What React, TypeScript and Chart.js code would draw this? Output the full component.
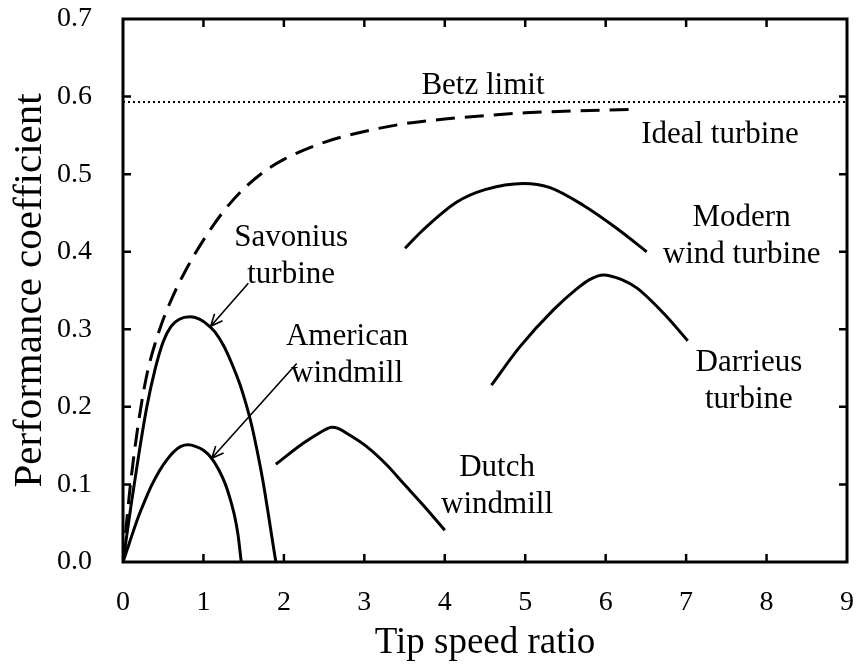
import React, { useEffect, useRef } from "react";
import { Chart, registerables } from "chart.js";

Chart.register(...registerables);

const SERIF = '"Liberation Serif", "Times New Roman", serif';

// Axis ranges and tick steps
const xRange = [0, 9];
const yRange = [0, 0.7];
const xStep = 1;
const yStep = 0.1;

// Betz limit (16/27)
const betzLimit = 0.593;

// Performance coefficient curves (tip speed ratio -> Cp)
const idealX = [0, 0.05, 0.1, 0.2, 0.3, 0.45, 0.6, 0.8, 1.0, 1.25, 1.5, 1.75, 2.0, 2.5, 3.0, 3.5, 4.0, 5.0, 6.39];
const idealY = [0, 0.057, 0.107, 0.185, 0.243, 0.298, 0.338, 0.38, 0.415, 0.452, 0.481, 0.503, 0.519, 0.541, 0.555, 0.565, 0.571, 0.579, 0.5836];

const savoniusX = [0, 0.1, 0.2, 0.3, 0.4, 0.5, 0.6, 0.7, 0.833, 0.95, 1.05, 1.14, 1.25, 1.36, 1.45, 1.52, 1.6, 1.68, 1.74, 1.8, 1.86, 1.9];
const savoniusY = [0, 0.073, 0.141, 0.202, 0.249, 0.284, 0.304, 0.313, 0.316, 0.313, 0.306, 0.297, 0.279, 0.254, 0.23, 0.207, 0.176, 0.137, 0.104, 0.066, 0.026, 0];

const americanX = [0, 0.1, 0.19, 0.28, 0.357, 0.45, 0.54, 0.63, 0.72, 0.812, 0.9, 1.0, 1.1, 1.19, 1.27, 1.33, 1.39, 1.43, 1.47];
const americanY = [0, 0.031, 0.058, 0.081, 0.099, 0.117, 0.131, 0.142, 0.149, 0.151, 0.149, 0.144, 0.134, 0.119, 0.101, 0.082, 0.058, 0.035, 0];

const dutchX = [1.9, 2.24, 2.45, 2.52, 2.594, 2.68, 2.78, 3.03, 3.28, 3.485, 3.73, 4.0];
const dutchY = [0.126, 0.153, 0.167, 0.171, 0.1736, 0.172, 0.166, 0.1487, 0.125, 0.1014, 0.0735, 0.041];

const modernX = [3.506, 3.73, 4.15, 4.5, 4.98, 5.3, 5.72, 6.14, 6.51];
const modernY = [0.4044, 0.428, 0.464, 0.48, 0.488, 0.483, 0.46, 0.43, 0.4];

const darrieusX = [4.58, 4.935, 5.35, 5.64, 5.8, 5.97, 6.2, 6.39, 6.72, 7.02];
const darrieusY = [0.228, 0.2776, 0.325, 0.352, 0.364, 0.37, 0.364, 0.353, 0.3206, 0.2853];

// Curve labels, placed in data coordinates
const curveLabels = [
  { lines: ["Betz limit"], x: 4.475, y: 0.614 },
  { lines: ["Ideal turbine"], x: 7.42, y: 0.551 },
  { lines: ["Modern", "wind turbine"], x: 7.69, y: 0.443 },
  { lines: ["Savonius", "turbine"], x: 2.09, y: 0.418 },
  { lines: ["American", "windmill"], x: 2.785, y: 0.29 },
  { lines: ["Darrieus", "turbine"], x: 7.78, y: 0.257 },
  { lines: ["Dutch", "windmill"], x: 4.65, y: 0.121 },
];

// Leader arrows (tail -> head) in data coordinates
const leaderArrows = [
  { from: [1.558, 0.3593], to: [1.09, 0.304] },
  { from: [2.159, 0.256], to: [1.103, 0.1337] },
];

const toPoints = (xs: number[], ys: number[]) => xs.map((x, i) => ({ x, y: ys[i] }));

const frameAndLabels = {
  id: "frameAndLabels",
  afterDatasetsDraw(chart: any) {
    const { ctx, chartArea, scales } = chart;
    const xs = scales.x;
    const ys = scales.y;
    ctx.save();
    ctx.strokeStyle = "#000";
    ctx.fillStyle = "#000";

    // plot frame
    ctx.lineWidth = 3;
    ctx.strokeRect(chartArea.left, chartArea.top, chartArea.right - chartArea.left, chartArea.bottom - chartArea.top);

    // inward tick marks on all four sides
    const tickLen = 8;
    ctx.lineWidth = 2.5;
    ctx.beginPath();
    xs.ticks.forEach((t: any) => {
      const px = xs.getPixelForValue(t.value);
      if (px <= chartArea.left + 1 || px >= chartArea.right - 1) return;
      ctx.moveTo(px, chartArea.bottom);
      ctx.lineTo(px, chartArea.bottom - tickLen);
      ctx.moveTo(px, chartArea.top);
      ctx.lineTo(px, chartArea.top + tickLen);
    });
    ys.ticks.forEach((t: any) => {
      const py = ys.getPixelForValue(t.value);
      if (py >= chartArea.bottom - 1 || py <= chartArea.top + 1) return;
      ctx.moveTo(chartArea.left, py);
      ctx.lineTo(chartArea.left + tickLen, py);
      ctx.moveTo(chartArea.right, py);
      ctx.lineTo(chartArea.right - tickLen, py);
    });
    ctx.stroke();

    // leader arrows
    ctx.lineWidth = 1.6;
    leaderArrows.forEach((a) => {
      const x0 = xs.getPixelForValue(a.from[0]);
      const y0 = ys.getPixelForValue(a.from[1]);
      const x1 = xs.getPixelForValue(a.to[0]);
      const y1 = ys.getPixelForValue(a.to[1]);
      const ang = Math.atan2(y1 - y0, x1 - x0);
      const head = 13;
      const spread = 0.42;
      ctx.beginPath();
      ctx.moveTo(x0, y0);
      ctx.lineTo(x1, y1);
      ctx.moveTo(x1 - head * Math.cos(ang - spread), y1 - head * Math.sin(ang - spread));
      ctx.lineTo(x1, y1);
      ctx.lineTo(x1 - head * Math.cos(ang + spread), y1 - head * Math.sin(ang + spread));
      ctx.stroke();
    });

    // curve labels
    ctx.font = `31px ${SERIF}`;
    ctx.textAlign = "center";
    ctx.textBaseline = "middle";
    const lineGap = 37;
    curveLabels.forEach((l) => {
      const cx = xs.getPixelForValue(l.x);
      const cy = ys.getPixelForValue(l.y);
      l.lines.forEach((txt, i) => {
        ctx.fillText(txt, cx, cy + i * lineGap);
      });
    });
    ctx.restore();
  },
};

export default function App() {
  const canvasRef = useRef<HTMLCanvasElement | null>(null);

  useEffect(() => {
    const canvas = canvasRef.current;
    if (!canvas) return;

    const line = (data: { x: number; y: number }[], dash: number[] = [], width = 3) => ({
      data,
      borderColor: "#000",
      backgroundColor: "#000",
      borderWidth: width,
      borderDash: dash,
      pointRadius: 0,
      pointHoverRadius: 0,
      fill: false,
      cubicInterpolationMode: "monotone" as const,
      borderCapStyle: "butt" as const,
      borderJoinStyle: "round" as const,
    });

    const chart = new Chart(canvas, {
      type: "line",
      data: {
        datasets: [
          line([{ x: xRange[0], y: betzLimit }, { x: xRange[1], y: betzLimit }], [2, 3], 2),
          line(toPoints(idealX, idealY), [19, 10], 3),
          line(toPoints(savoniusX, savoniusY)),
          line(toPoints(americanX, americanY)),
          line(toPoints(dutchX, dutchY)),
          line(toPoints(modernX, modernY)),
          line(toPoints(darrieusX, darrieusY)),
        ],
      },
      options: {
        responsive: false,
        animation: false,
        events: [],
        layout: { padding: { left: 0, top: 19, right: 10, bottom: 0 } },
        plugins: {
          legend: { display: false },
          tooltip: { enabled: false },
        },
        scales: {
          x: {
            type: "linear",
            min: xRange[0],
            max: xRange[1],
            grid: { display: false, drawTicks: false, tickLength: 0 },
            border: { display: false },
            ticks: {
              stepSize: xStep,
              color: "#000",
              padding: 24,
              maxRotation: 0,
              font: { family: SERIF, size: 28 },
            },
            title: {
              display: true,
              text: "Tip speed ratio",
              color: "#000",
              font: { family: SERIF, size: 37 },
              padding: { top: 0, bottom: 5 },
            },
            afterFit: (scale: any) => {
              scale.height = 108;
              scale.paddingLeft = 0;
              scale.paddingRight = 0;
            },
          },
          y: {
            type: "linear",
            min: yRange[0],
            max: yRange[1],
            grid: { display: false, drawTicks: false, tickLength: 0 },
            border: { display: false },
            ticks: {
              stepSize: yStep,
              color: "#000",
              padding: 31,
              font: { family: SERIF, size: 28 },
              callback: (v: any) => Number(v).toFixed(1),
            },
            title: {
              display: true,
              text: "Performance coefficient",
              color: "#000",
              font: { family: SERIF, size: 41 },
              padding: { top: 6, bottom: 0 },
            },
            afterFit: (scale: any) => {
              scale.width = 123;
              scale.paddingTop = 0;
              scale.paddingBottom = 0;
            },
          },
        },
      },
      plugins: [frameAndLabels],
    });

    return () => chart.destroy();
  }, []);

  return (
    <div style={{ position: "fixed", left: 0, top: 0, width: 857, height: 670, overflow: "hidden" }}>
      <canvas ref={canvasRef} width={857} height={670} style={{ display: "block" }} />
    </div>
  );
}
